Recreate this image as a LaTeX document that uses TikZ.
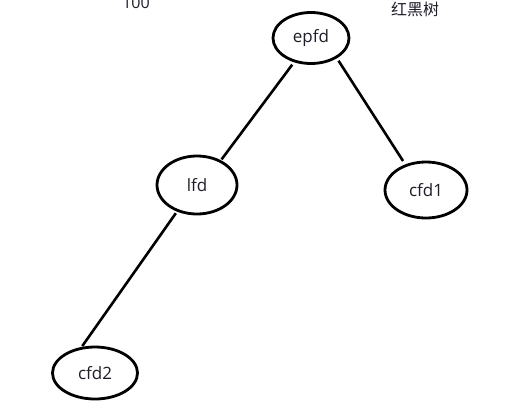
\documentclass[tikz,border=0pt]{standalone}
\usepackage{fontspec}
\setmainfont{Open Sans}
\newfontfamily\cjk{Noto Sans CJK SC}
\usetikzlibrary{shapes.geometric}
\definecolor{txt}{HTML}{1E1E2A}
\begin{document}
\begin{tikzpicture}[x=1pt,y=-1pt,
  treenode/.style={ellipse,draw=black,line width=2.8pt,inner sep=0pt,
    font=\fontsize{17}{17}\selectfont,text=txt},
  edge/.style={line width=2.6pt,draw=black},
  lbl/.style={font=\fontsize{16}{16}\selectfont,text=txt,inner sep=0pt}]
\useasboundingbox[fill=white] (0,0) rectangle (505,400);
\node[treenode,minimum width=76pt,minimum height=51pt] (epfd) at (311,38) {epfd};
\node[treenode,minimum width=80pt,minimum height=58pt] (lfd) at (197,185) {lfd};
\node[treenode,minimum width=82pt,minimum height=56pt] (cfd1) at (426,190) {cfd1};
\node[treenode,minimum width=85pt,minimum height=52pt] (cfd2) at (95,373) {cfd2};
\node[lbl] (t100) at (136,2.5) {100};
\node[lbl] (hh) at (415,9) {\cjk 红黑树};
\draw[edge,shorten <=3pt,shorten >=1pt] (epfd.-125) -- (lfd.46);
\draw[edge,shorten <=3pt,shorten >=4pt] (epfd.-38) -- (cfd1.129);
\draw[edge,shorten <=2pt,shorten >=1pt] (lfd.-127) -- (cfd2.117);
\end{tikzpicture}
\end{document}
